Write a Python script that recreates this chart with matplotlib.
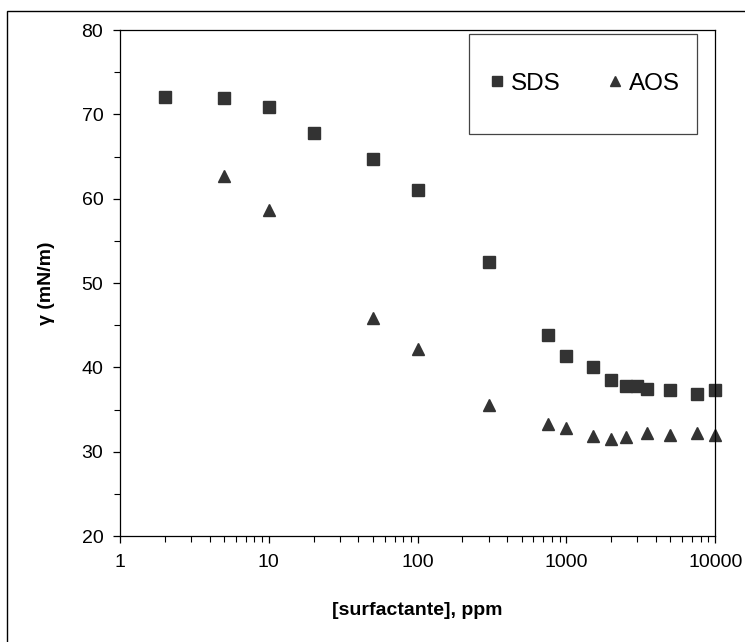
import matplotlib

matplotlib.use("Agg")
import matplotlib.pyplot as plt
from matplotlib.patches import Rectangle
from matplotlib.ticker import FixedLocator, LogLocator, MultipleLocator, NullFormatter

plt.rcParams["font.family"] = ["Liberation Sans", "DejaVu Sans"]

# surface tension vs concentration
sds_conc = [2, 5, 10, 20, 50, 100, 300, 750, 1000, 1500, 2000, 2500, 3000, 3500, 5000, 7500, 10000]
sds_gamma = [72.1, 71.9, 70.9, 67.8, 64.7, 61.1, 52.5, 43.9, 41.3, 40.0, 38.5, 37.8, 37.8, 37.5, 37.3, 36.8, 37.3]

aos_conc = [5, 10, 50, 100, 300, 750, 1000, 1500, 2000, 2500, 3500, 5000, 7500, 10000]
aos_gamma = [62.7, 58.7, 45.9, 42.2, 35.6, 33.3, 32.8, 31.9, 31.5, 31.8, 32.2, 32.0, 32.2, 32.0]

x_ticks = [1, 10, 100, 1000, 10000]
x_ticklabels = ["1", "10", "100", "1000", "10000"]
y_ticks = [20, 30, 40, 50, 60, 70, 80]

mcolor = "#333333"

fig = plt.figure(figsize=(7.45, 6.42), dpi=100)
ax = fig.add_axes([0.161, 0.165, 0.799, 0.788])

# outer frame, only left/top edges are visible in the crop
fig.patches.append(
    Rectangle((7 / 745, -0.05), 1.1, 1 - 11 / 642 + 0.05, transform=fig.transFigure,
              fill=False, edgecolor="black", linewidth=1.0)
)

ax.plot(sds_conc, sds_gamma, linestyle="none", marker="s", markersize=8.8,
        color=mcolor, label="SDS", clip_on=False)
ax.plot(aos_conc, aos_gamma, linestyle="none", marker="^", markersize=9.2,
        color=mcolor, label="AOS", clip_on=False)

ax.set_xscale("log")
ax.set_xlim(1, 10000)
ax.set_ylim(20, 80)
ax.xaxis.set_major_locator(FixedLocator(x_ticks))
ax.set_xticklabels(x_ticklabels)
ax.xaxis.set_minor_locator(LogLocator(base=10, subs=range(2, 10)))
ax.xaxis.set_minor_formatter(NullFormatter())
ax.set_yticks(y_ticks)
ax.yaxis.set_minor_locator(MultipleLocator(5))

ax.tick_params(axis="both", which="major", direction="out", length=5, width=0.9,
               labelsize=14, pad=7)
ax.tick_params(axis="both", which="minor", direction="out", length=4, width=0.8)
ax.tick_params(axis="x", which="major", pad=8)
for side in ["left", "bottom", "top", "right"]:
    ax.spines[side].set_linewidth(0.9)

ax.set_xlabel("[surfactante], ppm", fontsize=14, fontweight="bold", labelpad=22)
ax.set_ylabel("γ (mN/m)", fontsize=14, fontweight="bold", labelpad=19)

# legend box drawn separately, it is larger than the entries
ax.add_patch(Rectangle((0.587, 0.795), 0.383, 0.198, transform=ax.transAxes,
                       fill=False, edgecolor="#444444", linewidth=0.9, zorder=5))
ax.legend(loc="center", bbox_to_anchor=(0.778, 0.894), ncol=2, frameon=False,
          fontsize=17.5, handletextpad=0.1, columnspacing=1.8, markerscale=0.85,
          handlelength=0.9)

fig.savefig("out.png", dpi=100)
